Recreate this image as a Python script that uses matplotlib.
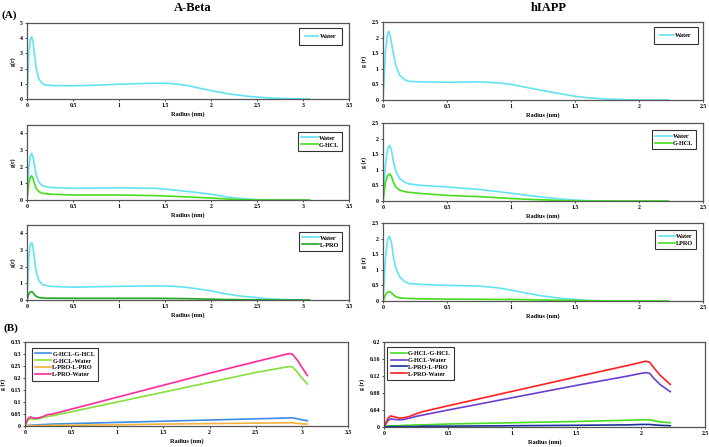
import matplotlib
matplotlib.use("Agg")
import matplotlib.pyplot as plt

plt.rcParams['font.family'] = ['Liberation Serif', 'DejaVu Serif']
plt.rcParams['font.weight'] = 'bold'

# ---- (A) A-Beta ----
ab1_x = [0, 0.01, 0.02, 0.035, 0.05, 0.065, 0.08, 0.1, 0.13, 0.17, 0.2, 0.3, 0.5, 0.7, 1.0, 1.25, 1.5, 1.6, 1.75, 1.9, 2.0, 2.2, 2.4, 2.6, 2.8, 3.0, 3.07]
ab1_water = [0, 1.5, 3.0, 3.9, 4.1, 3.8, 3.0, 2.0, 1.3, 1.0, 0.92, 0.88, 0.87, 0.9, 0.97, 1.02, 1.04, 1.0, 0.88, 0.68, 0.55, 0.33, 0.18, 0.08, 0.03, 0.01, 0.0]

ab2_x = [0, 0.01, 0.02, 0.035, 0.05, 0.065, 0.08, 0.1, 0.13, 0.17, 0.25, 0.5, 1.0, 1.4, 1.6, 1.8, 2.0, 2.15, 2.3, 2.5, 2.8, 3.07]
ab2_water = [0, 1.0, 2.0, 2.6, 2.8, 2.6, 2.1, 1.5, 1.05, 0.85, 0.75, 0.7, 0.73, 0.7, 0.6, 0.48, 0.35, 0.2, 0.1, 0.02, 0.0, 0.0]
ab2_ghcl = [0, 0.5, 1.0, 1.35, 1.45, 1.3, 1.0, 0.7, 0.5, 0.4, 0.35, 0.3, 0.3, 0.26, 0.22, 0.17, 0.12, 0.07, 0.03, 0.0, 0.0, 0.0]

ab3_x = [0, 0.01, 0.02, 0.035, 0.05, 0.065, 0.08, 0.1, 0.13, 0.17, 0.25, 0.5, 1.0, 1.4, 1.6, 1.75, 2.0, 2.15, 2.3, 2.6, 2.8, 3.07]
ab3_water = [0, 1.3, 2.6, 3.3, 3.45, 3.2, 2.5, 1.7, 1.15, 0.92, 0.82, 0.77, 0.82, 0.85, 0.82, 0.75, 0.55, 0.38, 0.25, 0.08, 0.02, 0.0]
ab3_lpro = [0, 0.2, 0.38, 0.48, 0.5, 0.45, 0.33, 0.22, 0.15, 0.12, 0.11, 0.1, 0.1, 0.1, 0.09, 0.08, 0.05, 0.03, 0.02, 0.0, 0.0, 0.0]

# ---- (A) hIAPP ----
hi1_x = [0, 0.01, 0.02, 0.035, 0.045, 0.06, 0.08, 0.1, 0.13, 0.17, 0.2, 0.3, 0.5, 0.75, 0.9, 1.0, 1.1, 1.25, 1.4, 1.5, 1.6, 1.75, 1.9, 2.0, 2.23]
hi1_water = [0, 0.8, 1.6, 2.1, 2.2, 2.0, 1.5, 1.1, 0.8, 0.65, 0.6, 0.58, 0.57, 0.58, 0.55, 0.5, 0.42, 0.3, 0.19, 0.12, 0.07, 0.03, 0.01, 0.0, 0.0]

hi2_x = [0, 0.01, 0.02, 0.035, 0.05, 0.065, 0.08, 0.1, 0.13, 0.17, 0.2, 0.3, 0.5, 0.75, 1.0, 1.15, 1.3, 1.4, 1.5, 1.6, 1.8, 2.0, 2.23]
hi2_water = [0, 0.6, 1.2, 1.65, 1.78, 1.65, 1.3, 0.95, 0.72, 0.6, 0.55, 0.5, 0.45, 0.37, 0.25, 0.17, 0.1, 0.06, 0.03, 0.01, 0.0, 0.0, 0.0]
hi2_ghcl = [0, 0.3, 0.6, 0.8, 0.87, 0.8, 0.62, 0.45, 0.35, 0.3, 0.28, 0.24, 0.18, 0.14, 0.08, 0.05, 0.03, 0.01, 0.0, 0.0, 0.0, 0.0, 0.0]

hi3_x = [0, 0.01, 0.02, 0.035, 0.05, 0.065, 0.08, 0.1, 0.13, 0.17, 0.2, 0.3, 0.5, 0.75, 0.9, 1.0, 1.15, 1.25, 1.4, 1.5, 1.6, 1.75, 2.0, 2.23]
hi3_water = [0, 0.7, 1.4, 1.95, 2.08, 1.9, 1.45, 1.05, 0.78, 0.62, 0.56, 0.53, 0.5, 0.48, 0.42, 0.35, 0.23, 0.16, 0.08, 0.05, 0.02, 0.0, 0.0, 0.0]
hi3_lpro = [0, 0.1, 0.2, 0.28, 0.3, 0.27, 0.2, 0.14, 0.1, 0.09, 0.08, 0.07, 0.06, 0.055, 0.05, 0.05, 0.04, 0.03, 0.025, 0.02, 0.01, 0.0, 0.0, 0.0]

# ---- (B) A-Beta ----
bl_x = [0, 0.03, 0.06, 0.1, 0.15, 0.2, 0.25, 0.3, 0.5, 1.0, 1.5, 2.0, 2.5, 2.82, 2.87, 2.9, 2.95, 3.0, 3.06]
bl_ghcl_ghcl = [0, 0.002, 0.003, 0.004, 0.005, 0.006, 0.007, 0.008, 0.01, 0.015, 0.02, 0.025, 0.03, 0.033, 0.034, 0.034, 0.03, 0.026, 0.022]
bl_ghcl_water = [0, 0.024, 0.03, 0.028, 0.03, 0.036, 0.04, 0.043, 0.059, 0.1, 0.141, 0.182, 0.223, 0.245, 0.248, 0.245, 0.225, 0.2, 0.175]
bl_lpro_lpro = [0, 0.001, 0.001, 0.001, 0.002, 0.002, 0.002, 0.003, 0.003, 0.005, 0.008, 0.01, 0.012, 0.013, 0.014, 0.013, 0.011, 0.009, 0.008]
bl_lpro_water = [0, 0.03, 0.038, 0.032, 0.034, 0.04, 0.048, 0.05, 0.07, 0.12, 0.17, 0.22, 0.268, 0.298, 0.302, 0.298, 0.275, 0.245, 0.21]

# ---- (B) hIAPP ----
br_x = [0, 0.03, 0.05, 0.08, 0.12, 0.16, 0.2, 0.25, 0.3, 0.5, 1.0, 1.5, 1.9, 2.0, 2.04, 2.07, 2.1, 2.15, 2.23]
br_ghcl_ghcl = [0, 0.002, 0.003, 0.003, 0.003, 0.004, 0.004, 0.005, 0.005, 0.007, 0.01, 0.013, 0.016, 0.017, 0.017, 0.017, 0.015, 0.012, 0.01]
br_ghcl_water = [0, 0.015, 0.019, 0.018, 0.017, 0.018, 0.021, 0.025, 0.028, 0.04, 0.069, 0.098, 0.12, 0.126, 0.128, 0.126, 0.115, 0.1, 0.083]
br_lpro_lpro = [0, 0.001, 0.001, 0.001, 0.001, 0.001, 0.001, 0.001, 0.002, 0.002, 0.003, 0.004, 0.005, 0.006, 0.006, 0.006, 0.005, 0.004, 0.003]
br_lpro_water = [0, 0.02, 0.026, 0.024, 0.021, 0.022, 0.025, 0.031, 0.036, 0.05, 0.084, 0.118, 0.145, 0.152, 0.155, 0.152, 0.14, 0.122, 0.1]

W, H = 709, 447
fig = plt.figure(figsize=(W / 100, H / 100), dpi=100)
fig.patch.set_facecolor('white')

CYAN = '#62e3f2'
GREEN = '#48dc1c'
DGREEN = '#24a524'


def make_ax(x0, x1, y0, y1, xmax, ymax, yticks, ylabel='g(r)'):
    ax = fig.add_axes([x0 / W, 1 - y1 / H, (x1 - x0) / W, (y1 - y0) / H])
    ax.set_xlim(0, xmax)
    ax.set_ylim(0, ymax)
    xt = [i * 0.5 for i in range(int(xmax / 0.5) + 1)]
    ax.set_xticks(xt)
    ax.set_xticklabels([('%g' % v) for v in xt])
    ax.set_yticks(yticks)
    ax.set_yticklabels([('%g' % v) for v in yticks])
    ax.tick_params(labelsize=4.2, length=1.5, width=0.5, pad=1.5)
    for s in ax.spines.values():
        s.set_linewidth(0.9)
        s.set_color('#555555')
    ax.set_xlabel('Radius (nm)', fontsize=4.5, fontweight='bold', labelpad=2)
    ax.set_ylabel(ylabel, fontsize=4.2, fontweight='bold', labelpad=3)
    return ax


def legend(ax, loc, anchor, pad=0.5, hl=2.6):
    lg = ax.legend(loc=loc, bbox_to_anchor=anchor, fontsize=4.5, frameon=True,
                   fancybox=False, edgecolor='black', handlelength=hl,
                   handletextpad=0.2, borderpad=pad, labelspacing=0.25,
                   borderaxespad=0.3)
    lg.get_frame().set_linewidth(0.8)
    for t in lg.get_texts():
        t.set_fontweight('bold')


lw = 1.2
ax = make_ax(27, 349, 23, 99, 3.5, 5, [0, 1, 2, 3, 4, 5])
ax.plot(ab1_x, ab1_water, color=CYAN, lw=lw, label='Water')
legend(ax, 'upper right', (0.985, 0.96), pad=0.95, hl=2.2)

ax = make_ax(27, 349, 125, 200, 3.5, 4.5, [0, 1, 2, 3, 4])
ax.plot(ab2_x, ab2_water, color=CYAN, lw=lw, label='Water')
ax.plot(ab2_x, ab2_ghcl, color=GREEN, lw=lw, label='G-HCL')
legend(ax, 'upper right', (0.985, 0.93))

ax = make_ax(27, 349, 225, 300, 3.5, 4.5, [0, 1, 2, 3, 4])
ax.plot(ab3_x, ab3_water, color=CYAN, lw=lw, label='Water')
ax.plot(ab3_x, ab3_lpro, color=DGREEN, lw=lw, label='L-PRO')
legend(ax, 'upper right', (0.985, 0.93))

ax = make_ax(383, 703, 22, 100, 2.5, 2.5, [0, 0.5, 1, 1.5, 2, 2.5], 'g (r)')
ax.plot(hi1_x, hi1_water, color=CYAN, lw=lw, label='Water')
legend(ax, 'upper right', (0.99, 0.96), pad=0.95, hl=2.2)

ax = make_ax(383, 703, 123, 201, 2.5, 2.5, [0, 0.5, 1, 1.5, 2, 2.5], 'g (r)')
ax.plot(hi2_x, hi2_water, color=CYAN, lw=lw, label='Water')
ax.plot(hi2_x, hi2_ghcl, color=GREEN, lw=lw, label='G-HCL')
legend(ax, 'upper right', (0.985, 0.93))

ax = make_ax(383, 703, 223, 301, 2.5, 2.5, [0, 0.5, 1, 1.5, 2, 2.5], 'g (r)')
ax.plot(hi3_x, hi3_water, color=CYAN, lw=lw, label='Water')
ax.plot(hi3_x, hi3_lpro, color=GREEN, lw=lw, label='LPRO')
legend(ax, 'upper right', (0.985, 0.93))

ax = make_ax(25, 348, 342, 426, 3.5, 0.35, [0, 0.05, 0.1, 0.15, 0.2, 0.25, 0.3, 0.35], 'g (r)')
ax.plot(bl_x, bl_ghcl_ghcl, color='#3d8de0', lw=lw, label='G-HCL-G-HCL')
ax.plot(bl_x, bl_ghcl_water, color='#86e03a', lw=lw, label='G-HCL-Water')
ax.plot(bl_x, bl_lpro_lpro, color='#f5b23a', lw=lw, label='L-PRO-L-PRO')
ax.plot(bl_x, bl_lpro_water, color='#ff2a9a', lw=lw, label='L-PRO-Water')
legend(ax, 'upper left', (0.015, 0.95))

ax = make_ax(384, 705, 342, 427, 2.5, 0.2, [0, 0.04, 0.08, 0.12, 0.16, 0.2], 'g (r)')
ax.plot(br_x, br_ghcl_ghcl, color='#48dc22', lw=lw, label='G-HCL-G-HCL')
ax.plot(br_x, br_ghcl_water, color='#6a3fd0', lw=lw, label='G-HCL-Water')
ax.plot(br_x, br_lpro_lpro, color='#1a2f9a', lw=lw, label='L-PRO-L-PRO')
ax.plot(br_x, br_lpro_water, color='#ff2020', lw=lw, label='L-PRO-Water')
legend(ax, 'upper left', (0.005, 0.96))

fig.text(193 / W, 1 - 8 / H, 'A-Beta', fontsize=9, fontweight='bold', ha='center', va='center')
fig.text(549 / W, 1 - 8 / H, 'hIAPP', fontsize=9, fontweight='bold', ha='center', va='center')
fig.text(2 / W, 1 - 15 / H, '(A)', fontsize=8, fontweight='bold', ha='left', va='center')
fig.text(3 / W, 1 - 328 / H, '(B)', fontsize=8, fontweight='bold', ha='left', va='center')

fig.savefig('out.png', dpi=100, facecolor='white')
